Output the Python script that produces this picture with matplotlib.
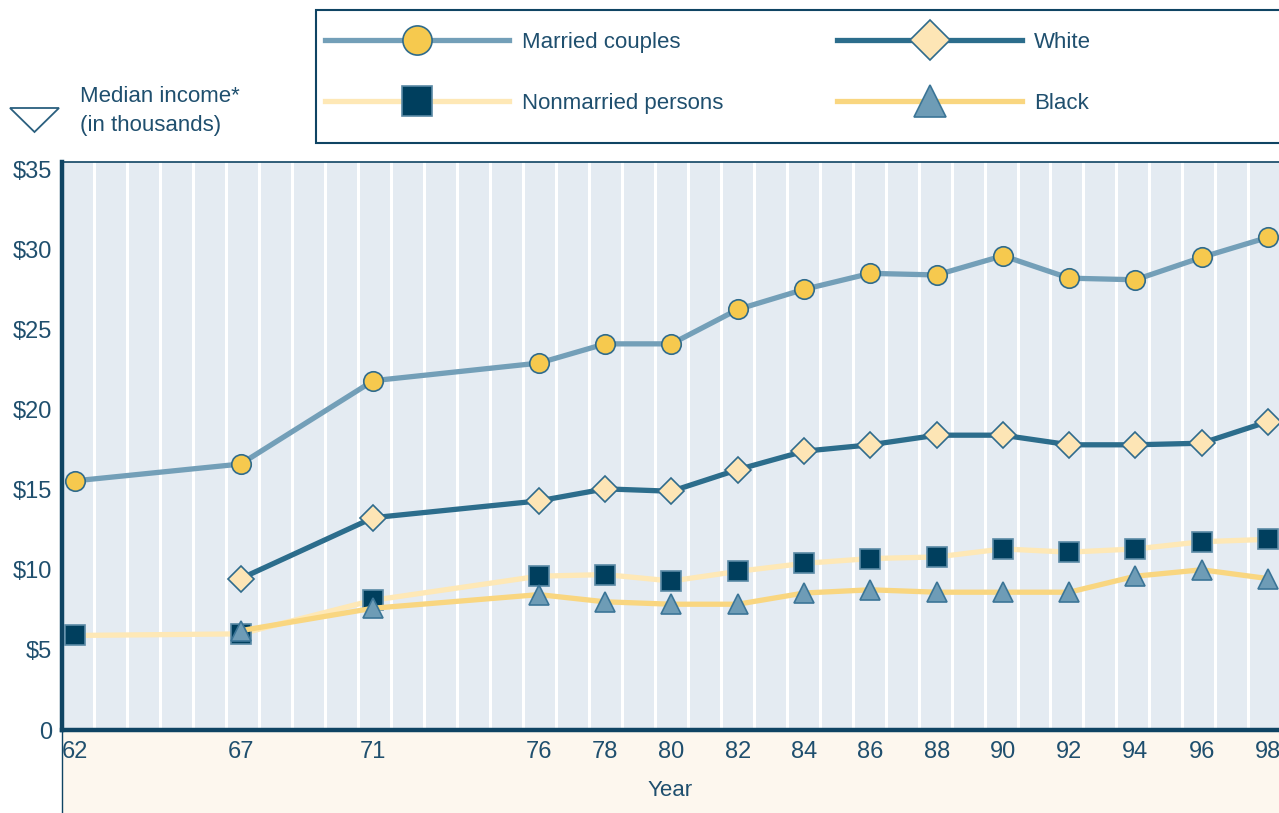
import matplotlib
matplotlib.use("Agg")
import matplotlib.pyplot as plt
from matplotlib.patches import Rectangle, Polygon
from matplotlib.lines import Line2D
import numpy as np

# ---- data ----
years_married = [62, 67, 71, 76, 78, 80, 82, 84, 86, 88, 90, 92, 94, 96, 98]
married = [15.55, 16.6, 21.8, 22.9, 24.1, 24.1, 26.25, 27.5, 28.5, 28.4, 29.6, 28.2, 28.1, 29.5, 30.75]

years_white = [67, 71, 76, 78, 80, 82, 84, 86, 88, 90, 92, 94, 96, 98]
white = [9.45, 13.25, 14.3, 15.05, 14.9, 16.25, 17.4, 17.8, 18.4, 18.4, 17.8, 17.8, 17.9, 19.25]

years_nonmarried = [62, 67, 71, 76, 78, 80, 82, 84, 86, 88, 90, 92, 94, 96, 98]
nonmarried = [5.9, 6.0, 8.1, 9.6, 9.7, 9.3, 9.9, 10.4, 10.7, 10.8, 11.3, 11.1, 11.3, 11.75, 11.9]

years_black = [67, 71, 76, 78, 80, 82, 84, 86, 88, 90, 92, 94, 96, 98]
black = [6.2, 7.6, 8.45, 8.0, 7.85, 7.85, 8.55, 8.75, 8.6, 8.6, 8.6, 9.6, 10.0, 9.45]

xtick_years = [62, 67, 71, 76, 78, 80, 82, 84, 86, 88, 90, 92, 94, 96, 98]
ytick_vals = [0, 5, 10, 15, 20, 25, 30, 35]
ytick_labels = ["0", "$5", "$10", "$15", "$20", "$25", "$30", "$35"]

# ---- style ----
TXT = "#1f4f6e"
DARK = "#0f4463"
FS = 16
plt.rcParams['font.family'] = ['Liberation Sans', 'DejaVu Sans']

W, H = 1279, 813
fig = plt.figure(figsize=(W / 100, H / 100), dpi=100)
fig.patch.set_facecolor("white")

def fx(px):
    return px / W

def fy(py):
    return 1 - py / H

# cream band below plot
fig.add_artist(Rectangle((fx(62), 0), 1 - fx(62), fy(730), transform=fig.transFigure,
                         facecolor="#fdf7ee", edgecolor="none", zorder=0))
fig.add_artist(Line2D([fx(62), fx(62)], [0, fy(730)], transform=fig.transFigure,
                      color=DARK, lw=1.0))

ax = fig.add_axes([fx(62), fy(730), 1 - fx(62), fy(162) - fy(730)])
ax.set_facecolor("#e4ebf2")
ax.set_xlim(61.61, 98.33)
ax.set_ylim(0, 35.45)

# vertical white grid lines
for gx in np.arange(62.58, 98.0, 0.995):
    ax.axvline(gx, color="white", lw=2.2, zorder=1)

ax.plot(years_married, married, color="#739fb8", lw=3.8, marker="o", ms=14,
        mfc="#f6c94e", mec="#2f6b8c", mew=1.2, zorder=3, label="Married couples")
ax.plot(years_white, white, color="#2c6d8c", lw=3.8, marker="D", ms=13.5,
        mfc="#fde5b5", mec="#2f6b8c", mew=1.2, zorder=3, label="White")
ax.plot(years_nonmarried, nonmarried, color="#fee8b6", lw=3.8, marker="s", ms=14.5,
        mfc="#003f5e", mec="#5b8aa6", mew=1.2, zorder=4, label="Nonmarried persons")
ax.plot(years_black, black, color="#f9d680", lw=3.8, marker="^", ms=15,
        mfc="#6e9cb6", mec="#3b7597", mew=1.2, zorder=5, label="Black")

for s in ["left", "bottom"]:
    ax.spines[s].set_color(DARK)
    ax.spines[s].set_linewidth(3.2)
ax.spines["top"].set_color(DARK)
ax.spines["top"].set_linewidth(1.2)
ax.spines["right"].set_visible(False)

ax.set_xticks(xtick_years)
ax.set_xticklabels([str(y) for y in xtick_years])
ax.set_yticks(ytick_vals)
ax.set_yticklabels(ytick_labels)
ax.tick_params(axis="both", length=0, labelsize=17, colors=TXT)
ax.tick_params(axis="x", pad=8)
ax.tick_params(axis="y", pad=7)
ax.set_xlabel("Year", fontsize=FS, color=TXT, labelpad=12)

# y label text and triangle icon
fig.text(fx(80), fy(96), "Median income*", fontsize=FS, color=TXT, va="center", ha="left")
fig.text(fx(80), fy(125), "(in thousands)", fontsize=FS, color=TXT, va="center", ha="left")
fig.add_artist(Polygon([[fx(10), fy(108)], [fx(59), fy(108)], [fx(34.5), fy(132)]],
                       closed=True, transform=fig.transFigure, facecolor="white",
                       edgecolor="#2a5f7e", lw=1.3))

# legend frame
fig.add_artist(Rectangle((fx(316), fy(143)), fx(1300) - fx(316), fy(10) - fy(143),
                         transform=fig.transFigure, facecolor="white",
                         edgecolor=DARK, lw=1.5, zorder=0.5))

# legend
h, l = ax.get_legend_handles_labels()
order = [0, 2, 1, 3]
leg = fig.legend([h[i] for i in order], [l[i] for i in order], ncol=2,
                 bbox_to_anchor=(fx(325), fy(32)), loc="upper left",
                 fontsize=FS, handlelength=8.3, handletextpad=0.55, markerscale=1.5,
                 borderaxespad=0, borderpad=0, labelspacing=1.8, frameon=False,
                 columnspacing=5.15)
for t in leg.get_texts():
    t.set_color(TXT)

fig.savefig("out.png", dpi=100)
